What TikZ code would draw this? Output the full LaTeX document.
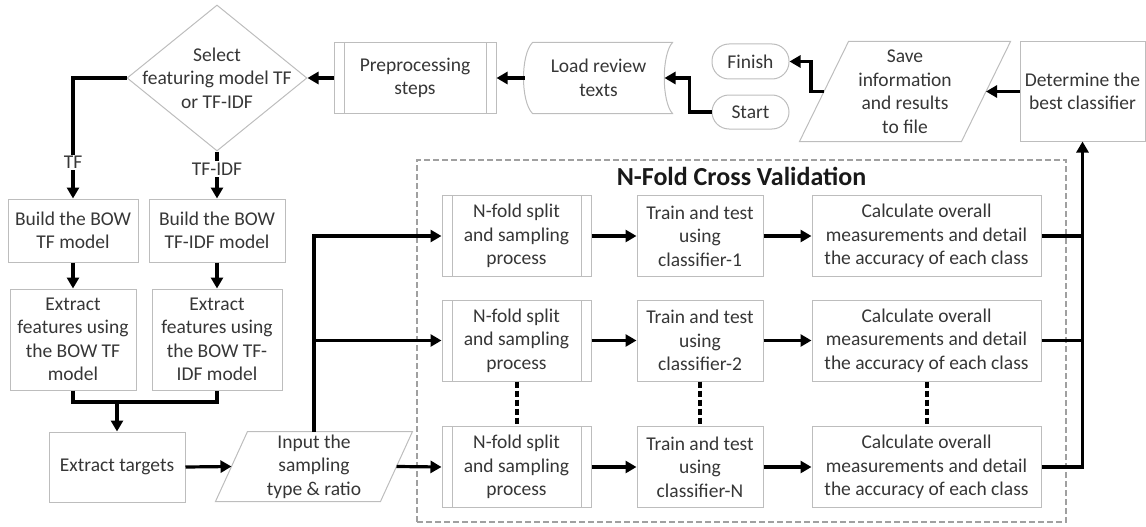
\documentclass[tikz,border=0pt]{standalone}
\usepackage{fontspec}
\setmainfont{Carlito}
\usetikzlibrary{arrows.meta,shapes.geometric,calc}
\definecolor{bord}{HTML}{BDBDBD}
\definecolor{dash}{HTML}{A0A0A0}
\definecolor{txt}{HTML}{363636}
\begin{document}
\begin{tikzpicture}[x=1pt,y=-1pt,
  box/.style={draw=bord, line width=1pt, rectangle, inner sep=0pt, align=center, text=txt, font=\fontsize{19.5}{23.5}\selectfont},
  plain/.style={box, draw=none},
  proc/.style={box, path picture={\draw[bord,line width=1pt]
      ([xshift=10pt]path picture bounding box.north west) -- ([xshift=10pt]path picture bounding box.south west)
      ([xshift=-10pt]path picture bounding box.north east) -- ([xshift=-10pt]path picture bounding box.south east);}},
  term/.style={box, rounded corners=17pt},
  shapeline/.style={draw=bord, line width=1pt},
  conn/.style={line width=3.2pt, -{Triangle[length=11pt,width=12pt]}},
  wire/.style={line width=3.2pt},
  dots/.style={line width=4pt, dash pattern=on 6pt off 3pt},
  lab/.style={fill=white, text=txt, inner sep=1.5pt, font=\fontsize{19.5}{23.5}\selectfont}
]
\useasboundingbox (0,0) rectangle (1146,527);

% dashed frame
\node[draw=dash, line width=1.2pt, dash pattern=on 6pt off 3pt, minimum width=649pt, minimum height=362pt, inner sep=0pt] (cv) at (741.5,341) {};
\node[font=\fontsize{26}{30}\selectfont\bfseries, text=black!90, inner sep=0pt] (title) at (741.5,176) {N-Fold Cross Validation};

% top row
\node[diamond, draw=bord, line width=1pt, minimum width=180pt, minimum height=146pt, inner sep=0pt] (sel) at (217,78) {};
\node[plain] (seltext) at (sel.center) {Select\\featuring model TF\\or TF-IDF};
\node[proc, minimum width=162pt, minimum height=70pt] (pre) at (415,78) {Preprocessing\\steps};
\node[plain, minimum width=147pt, minimum height=70pt] (load) at (598.5,78) {Load review\\texts};
\draw[shapeline] ([xshift=8pt]load.north west) -- (load.north east)
  .. controls ([xshift=-11pt,yshift=-12pt]load.north east) and ([xshift=-11pt,yshift=12pt]load.south east) .. (load.south east)
  -- ([xshift=8pt]load.south west)
  .. controls ([xshift=-4pt,yshift=12pt]load.south west) and ([xshift=-4pt,yshift=-12pt]load.north west) .. ([xshift=8pt]load.north west) -- cycle;
\node[term, minimum width=77pt, minimum height=35pt] (finish) at (750.5,61.5) {Finish};
\node[term, minimum width=77pt, minimum height=34pt] (start) at (750.5,112) {Start};
\node[plain, minimum width=210pt, minimum height=99pt] (save) at (905,91.5) {Save\\information\\and results\\to file};
\draw[shapeline] (save.south west) -- ([xshift=-49pt]save.south east) -- (save.north east) -- ([xshift=49pt]save.north west) -- cycle;
\node[box, minimum width=125pt, minimum height=99pt] (det) at (1082.5,91.5) {Determine the\\best classifier};

% left column
\node[box, minimum width=130pt, minimum height=63pt] (btf) at (73,230.5) {Build the BOW\\TF model};
\node[box, minimum width=136pt, minimum height=63pt] (bidf) at (217,230.5) {Build the BOW\\TF-IDF model};
\node[box, minimum width=126pt, minimum height=101pt] (etf) at (73,339.5) {Extract\\features using\\the BOW TF\\model};
\node[box, minimum width=130pt, minimum height=101pt] (eidf) at (217,339.5) {Extract\\features using\\the BOW TF-\\IDF model};
\node[box, minimum width=136pt, minimum height=70pt] (tgt) at (117,467) {Extract targets};
\node[plain, minimum width=196pt, minimum height=69pt] (inp) at (314,466.5) {Input the\\sampling\\type \& ratio};
\draw[shapeline] (inp.south west) -- ([xshift=-32pt]inp.south east) -- (inp.north east) -- ([xshift=32pt]inp.north west) -- cycle;

% cross validation rows
\foreach \i/\y/\n in {1/236/1, 2/340.5/2, 3/467/N}{
  \node[proc, minimum width=149pt, minimum height=81pt] (s\i) at (516.5,\y) {N-fold split\\and sampling\\process};
  \node[box, minimum width=126pt, minimum height=81pt] (t\i) at (700,\y) {Train and test\\using\\classifier-\n};
  \node[box, minimum width=229pt, minimum height=81pt] (c\i) at (926.5,\y) {Calculate overall\\measurements and detail\\the accuracy of each class};
}

% connectors
\draw[conn] (pre.west) -- (sel.east);
\draw[conn] (load.west) -- (pre.east);
\draw[conn] (start.west) -- ++(-22,0) |- ([xshift=-8pt]load.east);
\draw[conn] ([xshift=24.5pt]save.west) -- ++(-13,0) |- (finish.east);
\draw[conn] (det.west) -- ([xshift=-24.5pt]save.east);
\draw[conn] (sel.west) -| node[lab,pos=0.85]{TF} (btf.north);
\draw[conn] (sel.south) -- node[lab,pos=0.37]{TF-IDF} (bidf.north);
\draw[conn] (btf.south) -- (etf.north);
\draw[conn] (bidf.south) -- (eidf.north);
\coordinate (merge) at (117,402);
\draw[wire] (etf.south) |- (merge) -| (eidf.south);
\draw[conn] (merge) -- (tgt.north);
\draw[conn] (tgt.east) -- ([xshift=16pt]inp.west);
\draw[conn] ([xshift=-16pt]inp.east) -- (s3.west);
\draw[conn] (inp.north) |- (s1.west);
\draw[conn] (inp.north |- s2.west) -- (s2.west);
\foreach \i in {1,2,3}{
  \draw[conn] (s\i.east) -- (t\i.west);
  \draw[conn] (t\i.east) -- (c\i.west);
}
\draw[wire] (c1.east) -- (c1.east -| det.south);
\draw[wire] (c2.east) -- (c2.east -| det.south);
\draw[conn] (c3.east) -| (det.south);
\draw[dots] (s2.south) -- (s3.north);
\draw[dots] (t2.south) -- (t3.north);
\draw[dots] (c2.south) -- (c3.north);
\end{tikzpicture}
\end{document}
